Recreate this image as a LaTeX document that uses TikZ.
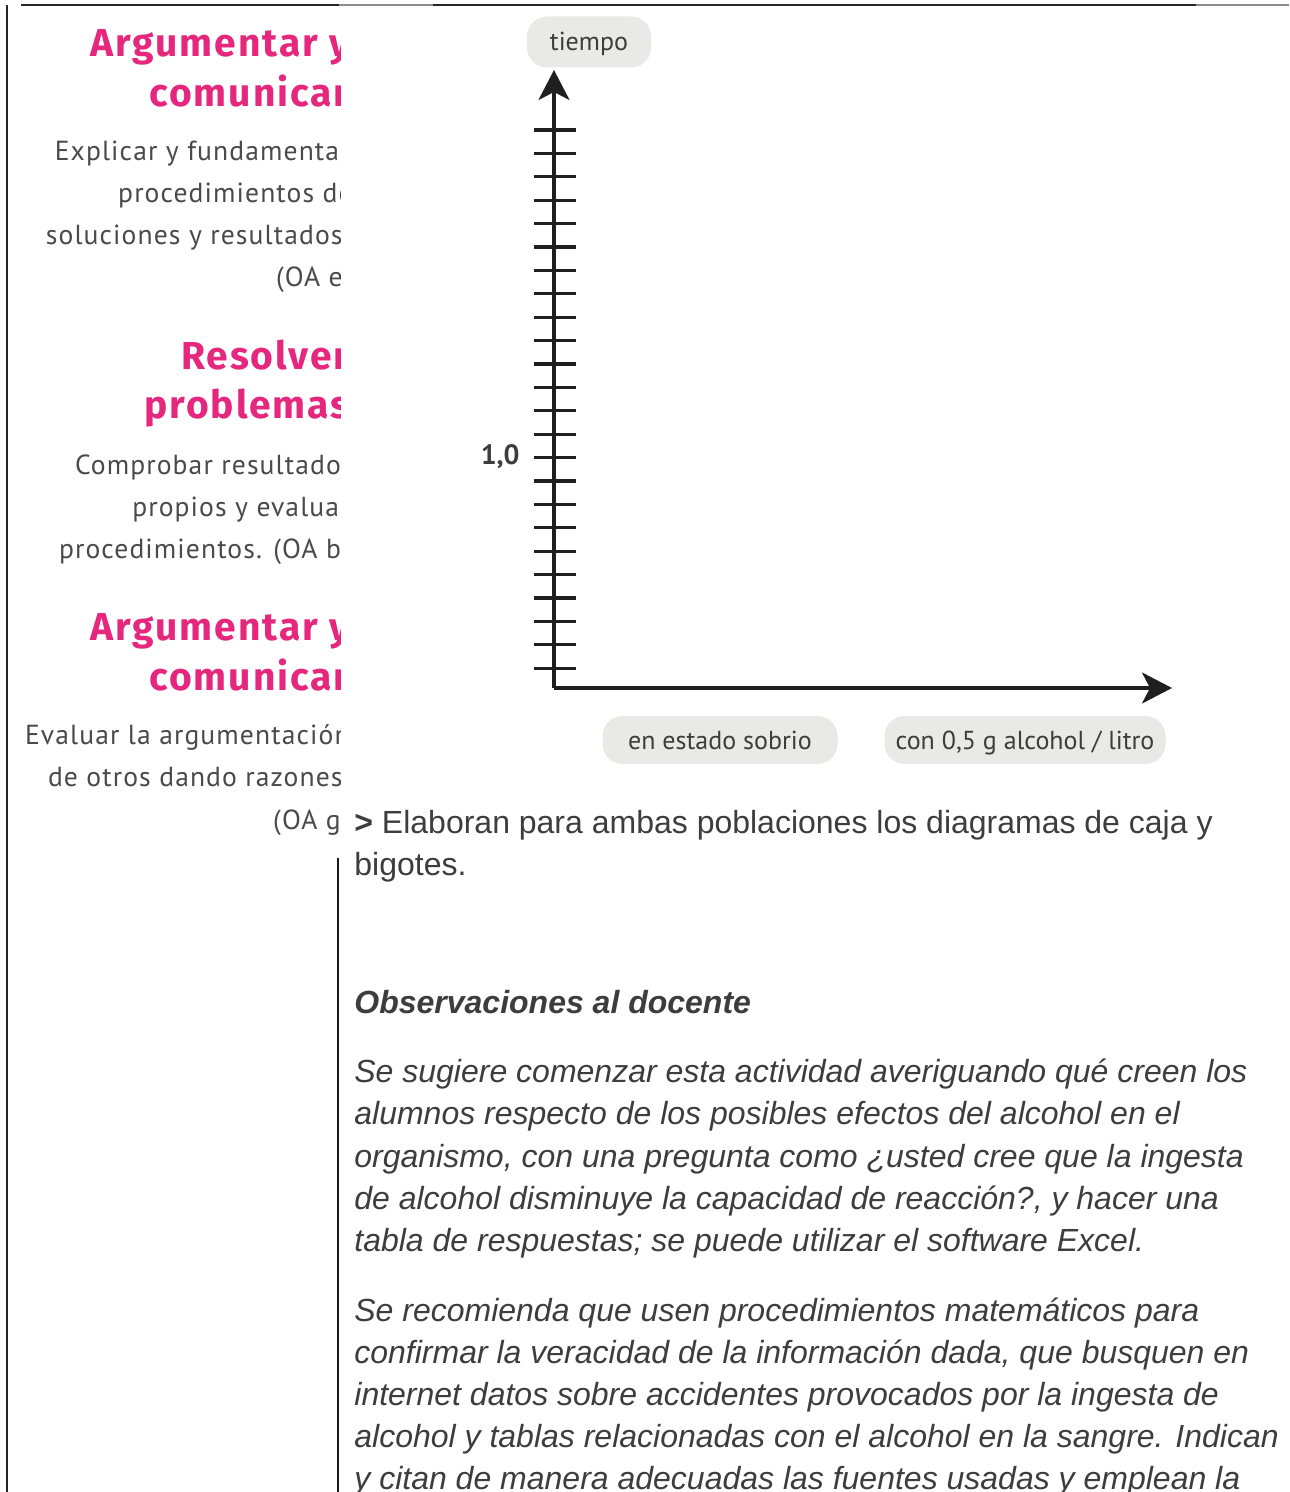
\documentclass[tikz,border=0pt]{standalone}
\usepackage{fontspec}
\setmainfont{Liberation Sans}
\newfontfamily\ptsans{PT Sans}
\newfontfamily\ptsansabierta[LetterSpace=4]{PT Sans}
\newfontfamily\fira[LetterSpace=5]{Fira Sans}
\usepackage{tikz}
\usetikzlibrary{arrows.meta}
\definecolor{rosa}{HTML}{E5287E}
\definecolor{gristxt}{HTML}{4A4A4A}
\definecolor{cajagris}{HTML}{E9E9E7}
\definecolor{cuerpo}{HTML}{3D3D3D}
\def\tickmark(#1){\draw[line width=0.55mm, color=black!88] (534,#1) -- (576,#1);}
\tikzset{
  titulo/.style={anchor=base east, text=rosa, inner sep=0pt, font=\fira\bfseries\fontsize{19.5}{21}\selectfont},
  oa/.style={anchor=base east, text=gristxt, inner sep=0pt, font=\ptsansabierta\fontsize{13.8}{16}\selectfont},
  etiqueta/.style={fill=cajagris, rounded corners=10pt, text=cuerpo, inner sep=0pt, minimum height=24pt, text height=11pt, text depth=2pt, font=\ptsans\fontsize{13}{15}\selectfont},
  linea/.style={anchor=base west, text=cuerpo, inner sep=0pt, font=\fontsize{16}{19}\selectfont},
  parrafo/.style={linea, font=\itshape\fontsize{16}{19}\selectfont},
  eje/.style={line width=0.55mm, color=black!88, -{Stealth[length=15pt, width=15.5pt, inset=4pt]}}
}

\begin{document}
\begin{tikzpicture}[x=0.5pt, y=-0.5pt]
			%%%%% START %%%%%
			
			\clip (0,0) rectangle (1289,1492);
			\fill[white] (0,0) rectangle (1289,1492);
			
			% page frame
			\draw[line width=0.3mm, color=black!85] (7,5) -- (7,1492);
			\draw[line width=0.3mm, color=black!85] (21,5) -- (339,5);
			\draw[line width=0.3mm, color=black!45] (339,5) -- (433,5);
			\draw[line width=0.3mm, color=black!85] (433,5) -- (1196,5);
			\draw[line width=0.3mm, color=black!45] (1196,5) -- (1289,5);
			\draw[line width=0.2mm, color=black!90] (338,858) -- (338,1492);
			
			% left column, cut at the margin
			\begin{scope}
			\clip (0,0) rectangle (340,900);
			\node[titulo] (arg1) at (350,57) {Argumentar y};
			\node[titulo] (com1) at (350,107) {comunicar};
			\node[oa] (oaE1) at (350,161) {Explicar y fundamentar};
			\node[oa] (oaE2) at (353,203) {procedimientos de};
			\node[oa] (oaE3) at (350,245) {soluciones y resultados.};
			\node[oa] (oaE4) at (352,287) {(OA e)};
			
			\node[titulo] (res) at (350,370) {Resolver};
			\node[titulo] (pro) at (350,418) {problemas};
			\node[oa] (oaB1) at (354,474) {Comprobar resultados};
			\node[oa] (oaB2) at (350,516) {propios y evaluar};
			\node[oa] (oaB3) at (350,558) {procedimientos. (OA b)};
			
			\node[titulo] (arg2) at (350,640) {Argumentar y};
			\node[titulo] (com2) at (350,690) {comunicar};
			\node[oa] (oaG1) at (350,744) {Evaluar la argumentación};
			\node[oa] (oaG2) at (350,786) {de otros dando razones.};
			\node[oa] (oaG3) at (350,829) {(OA g)};
			\end{scope}
			
			% axes
			\coordinate (origen) at (554,688);
			\coordinate (puntaY) at (554,70);
			\coordinate (puntaX) at (1172,688);
			\draw[eje] (origen) -- (puntaY);
			\draw[eje] (origen) -- (puntaX);
			
			\tickmark(130) \tickmark(153.4) \tickmark(176.8) \tickmark(200.2)
			\tickmark(223.6) \tickmark(247) \tickmark(270.4) \tickmark(293.8)
			\tickmark(317.2) \tickmark(340.6) \tickmark(364) \tickmark(387.4)
			\tickmark(410.8) \tickmark(434.2) \tickmark(457.6) \tickmark(481)
			\tickmark(504.4) \tickmark(527.8) \tickmark(551.2) \tickmark(574.6)
			\tickmark(598) \tickmark(621.4) \tickmark(644.8) \tickmark(668.2)
			
			\node[anchor=east, text=cuerpo, inner sep=0pt, font=\ptsans\bfseries\fontsize{14}{16}\selectfont] (uno) at (520,457) {1,0};
			
			\node[etiqueta, minimum width=62pt, minimum height=25.5pt] (tiempo) at (589,42) {tiempo};
			\node[etiqueta, minimum width=117.5pt] (sobrio) at (720,740) {en estado sobrio};
			\node[etiqueta, minimum width=140.5pt] (alcohol) at (1025,740) {con 0,5 g alcohol / litro};
			
			% text below
			\node[linea] (elab1) at (354,833) {\textbf{>} Elaboran para ambas poblaciones los diagramas de caja y};
			\node[linea] (elab2) at (354,875) {bigotes.};
			
			\node[linea, font=\bfseries\itshape\fontsize{16}{19}\selectfont] (obs) at (354,1013) {Observaciones al docente};
			
			\node[parrafo] (p1a) at (354,1082) {Se sugiere comenzar esta actividad averiguando qué creen los};
			\node[parrafo] (p1b) at (354,1124) {alumnos respecto de los posibles efectos del alcohol en el};
			\node[parrafo] (p1c) at (354,1167) {organismo, con una pregunta como ¿usted cree que la ingesta};
			\node[parrafo] (p1d) at (354,1209) {de alcohol disminuye la capacidad de reacción?, y hacer una};
			\node[parrafo] (p1e) at (354,1251) {tabla de respuestas; se puede utilizar el software Excel.};
			
			\node[parrafo] (p2a) at (354,1321) {Se recomienda que usen procedimientos matemáticos para};
			\node[parrafo] (p2b) at (354,1363) {confirmar la veracidad de la información dada, que busquen en};
			\node[parrafo] (p2c) at (354,1405) {internet datos sobre accidentes provocados por la ingesta de};
			\node[parrafo] (p2d) at (354,1447) {alcohol y tablas relacionadas con el alcohol en la sangre. Indican};
			\node[parrafo] (p2e) at (354,1489) {y citan de manera adecuadas las fuentes usadas y emplean la};
			
			%%%%% END %%%%%
\end{tikzpicture}
\end{document}
